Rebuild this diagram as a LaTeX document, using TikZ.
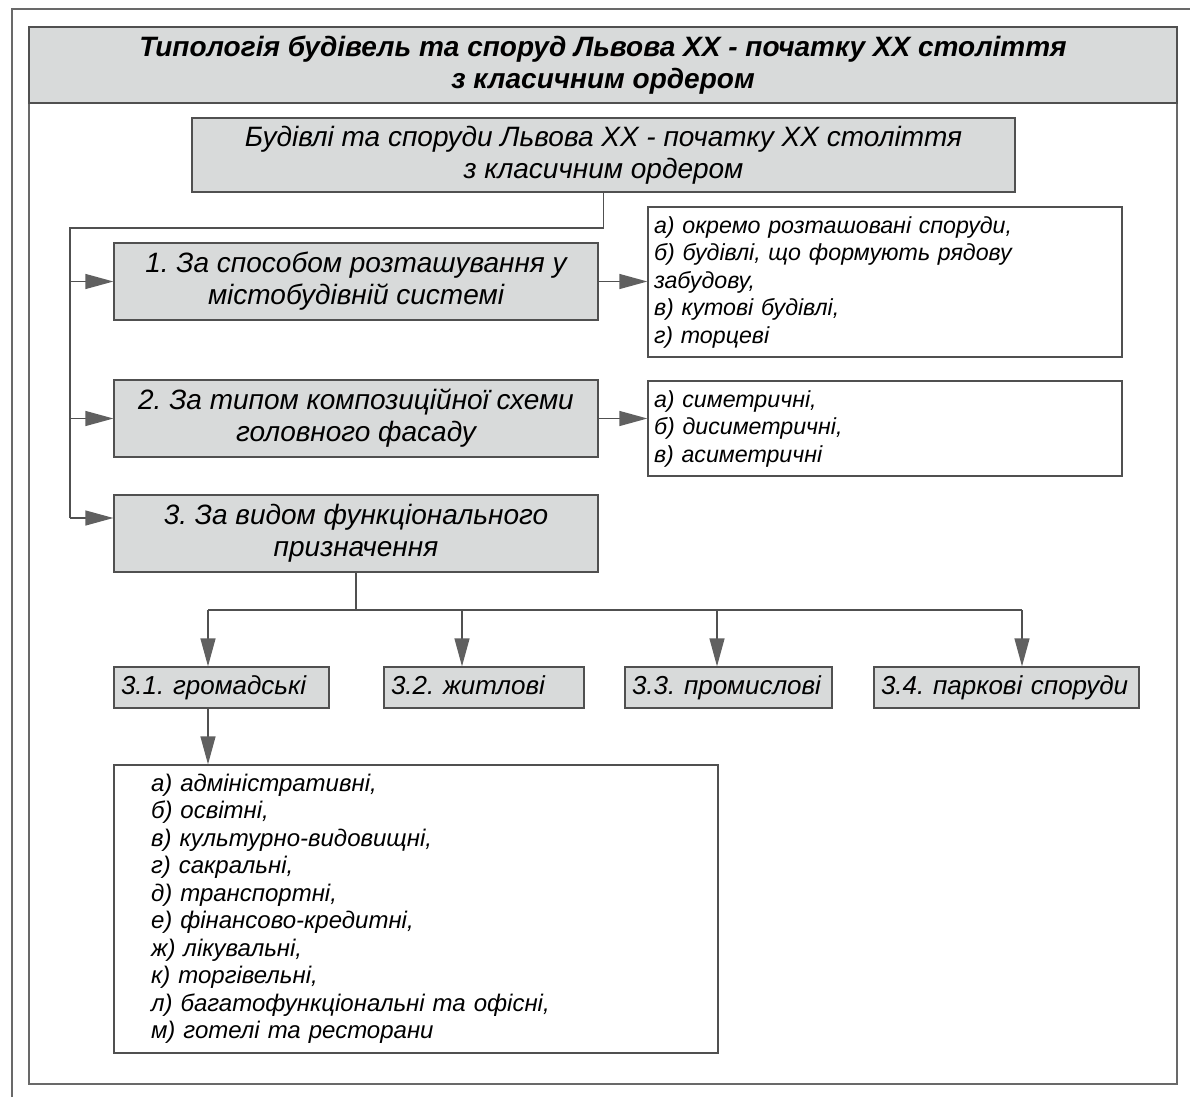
\documentclass[tikz,border=0pt]{standalone}
\usepackage{fontspec}
\setmainfont{Liberation Sans}
\usetikzlibrary{arrows.meta,calc}
\definecolor{boxgray}{RGB}{216,218,218}
\definecolor{linegray}{RGB}{80,80,80}
\definecolor{tipgray}{RGB}{96,96,96}
\definecolor{framegray}{RGB}{105,105,105}
\frenchspacing

\begin{document}
\begin{tikzpicture}[x=1pt, y=-1pt,
    frame/.style={draw=framegray, line width=1.3pt},
    titlebox/.style={fill=boxgray, draw=linegray, line width=1.3pt, align=center, inner sep=0pt,
        minimum width=1148pt, minimum height=76pt, font=\fontsize{28}{32}\selectfont\bfseries\itshape},
    headbox/.style={fill=boxgray, draw=linegray, line width=1.3pt, align=center, inner sep=0pt,
        minimum height=77pt, font=\fontsize{28}{32}\selectfont\itshape},
    listbox/.style={fill=white, draw=linegray, line width=1.3pt, align=left, inner ysep=0pt,
        font=\fontsize{23.2}{27.5}\selectfont\itshape},
    subbox/.style={fill=boxgray, draw=linegray, line width=1.3pt, align=left, inner xsep=7pt, inner ysep=0pt,
        text height=19pt, text depth=6pt, minimum height=41pt, font=\fontsize{26}{28}\selectfont\itshape},
    link/.style={draw=linegray, line width=1.3pt},
    pointer/.style={link, -{Triangle[length=28pt, width=15pt, color=tipgray]}}
]

% page frame
\useasboundingbox (0,0) rectangle (1190,1097);
\draw[frame] (12,1097) -- (12,9) -- (1190,9);
\draw[frame] (29,27) rectangle (1177,1084);

% title
\node[titlebox] (title) at (603,65) {Типологія будівель та споруд Львова XX - початку XX століття\\з класичним ордером};

% main box
\node[headbox, minimum width=823pt, minimum height=74pt] (head) at (603.5,155)
    {Будівлі та споруди Львова XX - початку XX століття\\з класичним ордером};

% criteria
\node[headbox, minimum width=484pt] (crit1) at (356,281.5) {1. За способом розташування у\\містобудівній системі};
\node[headbox, minimum width=484pt] (crit2) at (356,418.5) {2. За типом композиційної схеми\\головного фасаду};
\node[headbox, minimum width=484pt] (crit3) at (356,533.5) {3. За видом функціонального\\призначення};

% lists on the right
\node[listbox, inner xsep=6pt, text width=462pt, minimum height=150pt] (list1) at (885,282)
    {а) окремо розташовані споруди,\\б) будівлі, що формують рядову\\забудову,\\в) кутові будівлі,\\г) торцеві};
\node[listbox, inner xsep=6pt, text width=462pt, minimum height=95pt] (list2) at (885,428.5)
    {а) симетричні,\\б) дисиметричні,\\в) асиметричні};

% functional kinds
\node[subbox, text width=201pt] (sub1) at (221.5,687.5) {3.1. громадські};
\node[subbox, text width=186pt] (sub2) at (484,687.5) {3.2. житлові};
\node[subbox, text width=193pt] (sub3) at (728.5,687.5) {3.3. промислові};
\node[subbox, text width=251pt] (sub4) at (1006.5,687.5) {3.4. паркові споруди};

% public buildings
\node[listbox, inner xsep=37pt, text width=530pt, minimum height=288pt,
    font=\fontsize{24}{27.5}\selectfont\itshape] (pub) at (416,909)
    {а) адміністративні,\\б) освітні,\\в) культурно-видовищні,\\г) сакральні,\\д) транспортні,\\е) фінансово-кредитні,\\ж) лікувальні,\\к) торгівельні,\\л) багатофункціональні та офісні,\\м) готелі та ресторани};

% left bus
\coordinate (busTop) at (70,228);
\coordinate (bus3) at (70,518);
\draw[link] (head.south) |- (busTop) -- (bus3);
\draw[pointer] (busTop |- crit1.west) -- (crit1.west);
\draw[pointer] (busTop |- crit2.west) -- (crit2.west);
\draw[pointer] (bus3) -- (bus3 -| crit3.west);
\draw[pointer] (crit1.east) -- (list1.west |- crit1.east);
\draw[pointer] (crit2.east) -- (list2.west |- crit2.east);

% lower bus
\coordinate (fork1) at (208,610);
\coordinate (fork2) at (462,610);
\coordinate (fork3) at (717,610);
\coordinate (fork4) at (1022,610);
\draw[link] (crit3.south) -- (crit3.south |- fork1);
\draw[link] (fork1) -- (fork4);
\foreach \i in {1,...,4}
    \draw[pointer] (fork\i) -- (fork\i |- sub\i.north);
\draw[pointer] (fork1 |- sub1.south) -- (fork1 |- pub.north);

\end{tikzpicture}
\end{document}
